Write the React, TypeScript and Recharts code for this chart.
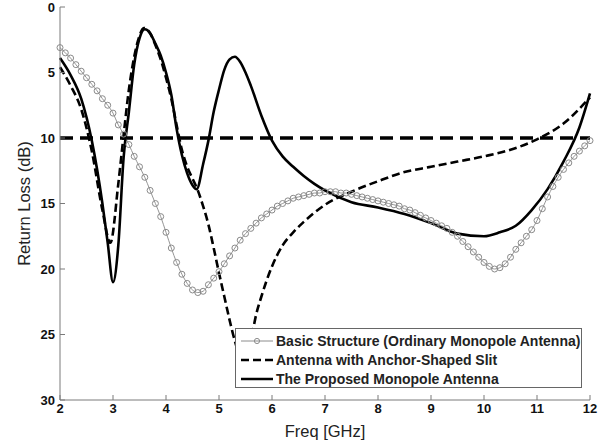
import React from "react";
import { LineChart, Line, XAxis, YAxis, ReferenceLine, Legend } from "recharts";

const xTicks = [2, 3, 4, 5, 6, 7, 8, 9, 10, 11, 12];
const yTicks = [0, 5, 10, 15, 20, 25, 30];
const threshold = 10;

const seriesNames = [
  "Basic Structure (Ordinary Monopole Antenna)",
  "Antenna with Anchor-Shaped Slit",
  "The Proposed Monopole Antenna",
];

// basic structure, one marker every 0.1 GHz
const basicFreq = [
  2.0, 2.1, 2.2, 2.3, 2.4, 2.5, 2.6, 2.7, 2.8, 2.9,
  3.0, 3.1, 3.2, 3.3, 3.4, 3.5, 3.6, 3.7, 3.8, 3.9,
  4.0, 4.1, 4.2, 4.3, 4.4, 4.5, 4.6, 4.7, 4.8, 4.9,
  5.0, 5.1, 5.2, 5.3, 5.4, 5.5, 5.6, 5.7, 5.8, 5.9,
  6.0, 6.1, 6.2, 6.3, 6.4, 6.5, 6.6, 6.7, 6.8, 6.9,
  7.0, 7.1, 7.2, 7.3, 7.4, 7.5, 7.6, 7.7, 7.8, 7.9,
  8.0, 8.1, 8.2, 8.3, 8.4, 8.5, 8.6, 8.7, 8.8, 8.9,
  9.0, 9.1, 9.2, 9.3, 9.4, 9.5, 9.6, 9.7, 9.8, 9.9,
  10.0, 10.1, 10.2, 10.3, 10.4, 10.5, 10.6, 10.7, 10.8, 10.9,
  11.0, 11.1, 11.2, 11.3, 11.4, 11.5, 11.6, 11.7, 11.8, 11.9,
  12.0,
];
const basicLoss = [
  3.1, 3.5, 3.9, 4.4, 4.9, 5.4, 5.9, 6.4, 7.0, 7.5,
  8.1, 9.0, 9.7, 10.5, 11.4, 12.2, 13.0, 14.0, 15.0, 16.0,
  17.2, 18.4, 19.5, 20.4, 21.1, 21.6, 21.8, 21.7, 21.2, 20.7,
  20.2, 19.6, 19.0, 18.4, 17.8, 17.3, 16.9, 16.5, 16.1, 15.8,
  15.5, 15.2, 15.0, 14.8, 14.6, 14.5, 14.4, 14.3, 14.2, 14.2,
  14.1, 14.1, 14.1, 14.2, 14.2, 14.3, 14.4, 14.5, 14.6, 14.7,
  14.8, 14.9, 15.0, 15.1, 15.2, 15.4, 15.5, 15.7, 15.9, 16.1,
  16.3, 16.5, 16.7, 16.9, 17.2, 17.5, 17.9, 18.3, 18.7, 19.1,
  19.5, 19.8, 20.0, 19.9, 19.6, 19.1, 18.5, 18.0, 17.5, 17.0,
  16.3, 15.4, 14.5, 13.7, 13.0, 12.4, 11.9, 11.4, 11.0, 10.6,
  10.2,
];

const slitFreq = [
  2, 2.2, 2.4, 2.6, 2.8, 2.95, 3.1, 3.2, 3.3, 3.4, 3.5, 3.58, 3.7, 3.8, 3.9,
  4.0, 4.1, 4.2, 4.3, 4.4, 4.5, 4.6, 4.7, 4.8, 4.9, 5.0, 5.1, 5.2, 5.3, 5.45,
  5.6, 5.7, 5.8, 6.0, 6.2, 6.4, 6.6, 6.8, 7.0, 7.5, 8.0, 8.5, 9.0, 9.5, 10.0,
  10.5, 11.0, 11.5, 12,
];
const slitLoss = [
  4.6, 6.0, 7.8, 11.0, 15.5, 18.0, 13.5, 9.8, 6.3, 3.8, 2.2, 1.6, 2.0, 2.9, 4.0,
  5.4, 7.0, 9.0, 10.9, 12.2, 13.1, 14.0, 15.2, 16.6, 18.4, 20.3, 22.1, 23.9, 25.5, 27.0,
  25.5, 23.5, 22.1, 19.8, 18.2, 17.2, 16.4, 15.7, 15.1, 14.1, 13.3, 12.6, 12.2, 11.8, 11.4,
  10.9, 10.1, 8.9, 6.9,
];

const proposedFreq = [
  2, 2.2, 2.4, 2.6, 2.8, 2.9, 3.0, 3.1, 3.2, 3.3, 3.4, 3.5, 3.6, 3.7, 3.8, 3.9,
  4.0, 4.1, 4.2, 4.3, 4.4, 4.5, 4.58, 4.7, 4.8, 4.9, 5.0, 5.1, 5.2, 5.3, 5.4,
  5.5, 5.6, 5.8, 6.0, 6.2, 6.4, 6.6, 6.8, 7.0, 7.5, 8.0, 8.5, 9.0, 9.5, 10.0,
  10.3, 10.6, 10.9, 11.2, 11.5, 11.8, 12,
];
const proposedLoss = [
  3.9, 5.2, 7.0, 10.2, 15.0, 18.0, 21.0, 18.2, 11.5, 8.0, 4.4, 2.4, 1.7, 2.0, 2.8, 3.7,
  5.0, 6.7, 9.3, 11.3, 12.7, 13.6, 13.9, 12.0, 10.2, 8.0, 6.3, 4.8, 4.0, 3.8, 4.2,
  5.0, 6.0, 8.3, 10.2, 11.4, 12.2, 12.9, 13.5, 14.0, 14.9, 15.3, 15.8, 16.5, 17.3, 17.5,
  17.2, 16.7, 15.5, 13.9, 11.8, 9.2, 6.6,
];

const toPoints = (fs: number[], ls: number[]) => fs.map((f, i) => ({ freq: f, loss: ls[i] }));

const basicData = toPoints(basicFreq, basicLoss);
const slitData = toPoints(slitFreq, slitLoss);
const proposedData = toPoints(proposedFreq, proposedLoss);

const font = "'Liberation Sans', Arial, sans-serif";
const boxGray = "#7a7a7a";
const tickStyle = { fill: "#111", fontSize: 13, fontWeight: 700, fontFamily: font };

function LegendSample({ index }: { index: number }) {
  if (index === 0) {
    return (
      <svg width={34} height={10}>
        <line x1={1} y1={5} x2={33} y2={5} stroke="#8c8c8c" strokeWidth={1} />
        <circle cx={17} cy={5} r={2.6} fill="none" stroke="#8c8c8c" strokeWidth={1} />
      </svg>
    );
  }
  return (
    <svg width={34} height={10}>
      <line
        x1={1}
        y1={5}
        x2={33}
        y2={5}
        stroke="#000"
        strokeWidth={2.5}
        strokeDasharray={index === 1 ? "8 4" : undefined}
      />
    </svg>
  );
}

function LegendBox(props: any) {
  // keep the order the series were plotted in
  const payload = [...(props.payload || [])].sort(
    (a: any, b: any) => seriesNames.indexOf(a.value) - seriesNames.indexOf(b.value)
  );
  return (
    <div
      style={{
        width: 347,
        height: 60,
        boxSizing: "border-box",
        border: "1px solid #666",
        background: "#fff",
        padding: "2px 0 0 4px",
        fontFamily: font,
      }}
    >
      {payload.map((entry: any) => (
        <div key={entry.value} style={{ display: "flex", alignItems: "center", height: 19 }}>
          <LegendSample index={seriesNames.indexOf(entry.value)} />
          <span style={{ marginLeft: 2, fontSize: 14, fontWeight: 700, color: "#222" }}>
            {entry.value}
          </span>
        </div>
      ))}
    </div>
  );
}

export default function App() {
  return (
    <div style={{ position: "absolute", left: 0, top: 0, width: 601, height: 442, background: "#fff" }}>
      <LineChart width={601} height={442} margin={{ top: 7, right: 11, bottom: 0, left: 0 }}>
        <XAxis
          type="number"
          dataKey="freq"
          domain={[2, 12]}
          ticks={xTicks}
          interval={0}
          height={42}
          tickSize={-5}
          tickMargin={9}
          tick={tickStyle}
          axisLine={{ stroke: boxGray }}
          tickLine={{ stroke: boxGray }}
          label={{ value: "Freq [GHz]", position: "insideBottom", offset: 5, fill: "#222", fontSize: 16.5, fontFamily: font }}
        />
        <XAxis
          xAxisId="top"
          orientation="top"
          type="number"
          dataKey="freq"
          domain={[2, 12]}
          ticks={xTicks}
          interval={0}
          height={0}
          tickSize={-5}
          tickFormatter={() => ""}
          axisLine={{ stroke: boxGray }}
          tickLine={{ stroke: boxGray }}
        />
        <YAxis
          type="number"
          domain={[0, 30]}
          reversed
          ticks={yTicks}
          interval={0}
          width={60}
          tickSize={-5}
          tickMargin={10}
          tick={tickStyle}
          axisLine={{ stroke: boxGray }}
          tickLine={{ stroke: boxGray }}
          label={{
            value: "Return Loss (dB)",
            angle: -90,
            position: "insideLeft",
            offset: 24,
            style: { textAnchor: "middle" },
            fill: "#222",
            fontSize: 16.5,
            fontFamily: font,
          }}
        />
        <YAxis
          yAxisId="right"
          orientation="right"
          type="number"
          domain={[0, 30]}
          reversed
          ticks={yTicks}
          interval={0}
          width={0}
          tickSize={-5}
          tickFormatter={() => ""}
          axisLine={{ stroke: boxGray }}
          tickLine={{ stroke: boxGray }}
        />
        <ReferenceLine y={threshold} stroke="#000" strokeWidth={3.5} strokeDasharray="13 7" />
        <Line
          data={basicData}
          dataKey="loss"
          name={seriesNames[0]}
          type="monotone"
          stroke="#959595"
          strokeWidth={1}
          dot={{ r: 3, stroke: "#8a8a8a", strokeWidth: 1, fill: "none" }}
          isAnimationActive={false}
        />
        <Line
          data={slitData}
          dataKey="loss"
          name={seriesNames[1]}
          type="monotone"
          stroke="#000"
          strokeWidth={2.6}
          strokeDasharray="8 4"
          dot={false}
          isAnimationActive={false}
        />
        <Line
          data={proposedData}
          dataKey="loss"
          name={seriesNames[2]}
          type="monotone"
          stroke="#000"
          strokeWidth={2.6}
          dot={false}
          isAnimationActive={false}
        />
        <Legend
          layout="vertical"
          align="center"
          verticalAlign="middle"
          content={<LegendBox />}
          wrapperStyle={{ left: 235, top: 328, width: 347, height: 60 }}
        />
      </LineChart>
    </div>
  );
}
